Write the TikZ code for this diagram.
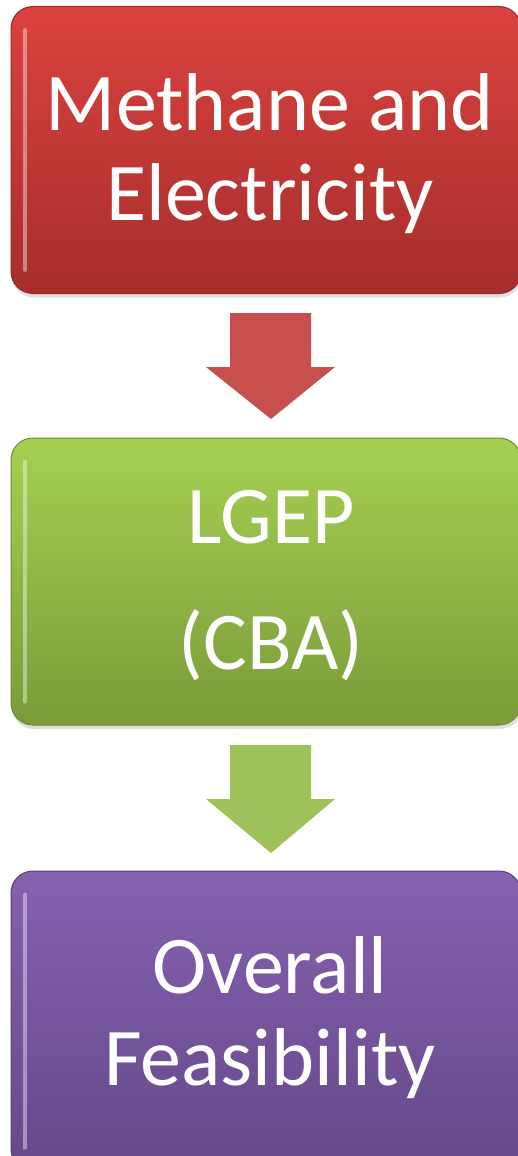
\documentclass[tikz,border=0pt]{standalone}
\usepackage{fontspec}
\setmainfont{Carlito}
\usetikzlibrary{shadows}
\definecolor{redtop}{RGB}{218,66,63}
\definecolor{redbot}{RGB}{166,46,44}
\definecolor{redline}{RGB}{150,40,38}
\definecolor{greentop}{RGB}{166,208,82}
\definecolor{greenbot}{RGB}{122,155,57}
\definecolor{greenline}{RGB}{110,140,50}
\definecolor{purptop}{RGB}{133,97,176}
\definecolor{purpbot}{RGB}{101,72,137}
\definecolor{purpline}{RGB}{90,64,122}
\definecolor{redarrow}{RGB}{199,80,77}
\definecolor{greenarrow}{RGB}{158,193,89}
\begin{document}
\begin{tikzpicture}[x=1pt,y=-1pt,
  box/.style={rectangle, rounded corners=22pt, minimum width=510pt, minimum height=287pt,
    inner sep=0pt, line width=1pt,
    drop shadow={shadow xshift=1pt, shadow yshift=-4pt, opacity=0.25}},
  txt/.style={text=white, font=\fontsize{82}{90}\selectfont, inner sep=0pt},
  gloss/.style={line width=4pt, white, opacity=0.4, line cap=round}]
\useasboundingbox (0,0) rectangle (518,1156);
\clip (0,0) rectangle (518,1156);
\fill[white] (0,0) rectangle (518,1156);
% boxes
\node[box, draw=redline, top color=redtop, bottom color=redbot] (red) at (266,150) {};
\node[box, draw=greenline, top color=greentop, bottom color=greenbot] (green) at (266,581.5) {};
\node[box, draw=purpline, top color=purptop, bottom color=purpbot, minimum height=300pt] (purple) at (266,1021) {};
% gloss
\draw[gloss] ([xshift=14pt,yshift=-24pt]red.north west) -- ([xshift=14pt,yshift=24pt]red.south west);
\draw[gloss] ([xshift=14pt,yshift=-24pt]green.north west) -- ([xshift=14pt,yshift=24pt]green.south west);
\draw[gloss] ([xshift=14pt,yshift=-24pt]purple.north west) -- ([xshift=14pt,yshift=24pt]purple.south west);
% texts
\node[txt, anchor=base] (t1) at (270,130) {Methane and};
\node[txt, anchor=base] (t2) at (270,220) {Electricity};
\node[txt, anchor=base] (t3) at (271,543) {LGEP};
\node[txt, anchor=base] (t4) at (271,669) {(CBA)};
\node[txt, anchor=base] (t5) at (270,993) {Overall};
\node[txt, anchor=base] (t6) at (270,1085) {Feasibility};
% block arrows
\coordinate (a1) at (271,313);
\coordinate (a2) at (271,745);
\fill[redarrow] ([xshift=-41pt]a1) -- ([xshift=40pt]a1) -- ++(0,-54pt) -- ++(24pt,0) -- ([yshift=-106pt]a1) -- ++(-65pt,52pt) -- ++(24pt,0) -- cycle;
\fill[greenarrow] ([xshift=-41pt]a2) -- ([xshift=40pt]a2) -- ++(0,-54pt) -- ++(24pt,0) -- ([yshift=-108pt]a2) -- ++(-65pt,54pt) -- ++(24pt,0) -- cycle;
\end{tikzpicture}
\end{document}
